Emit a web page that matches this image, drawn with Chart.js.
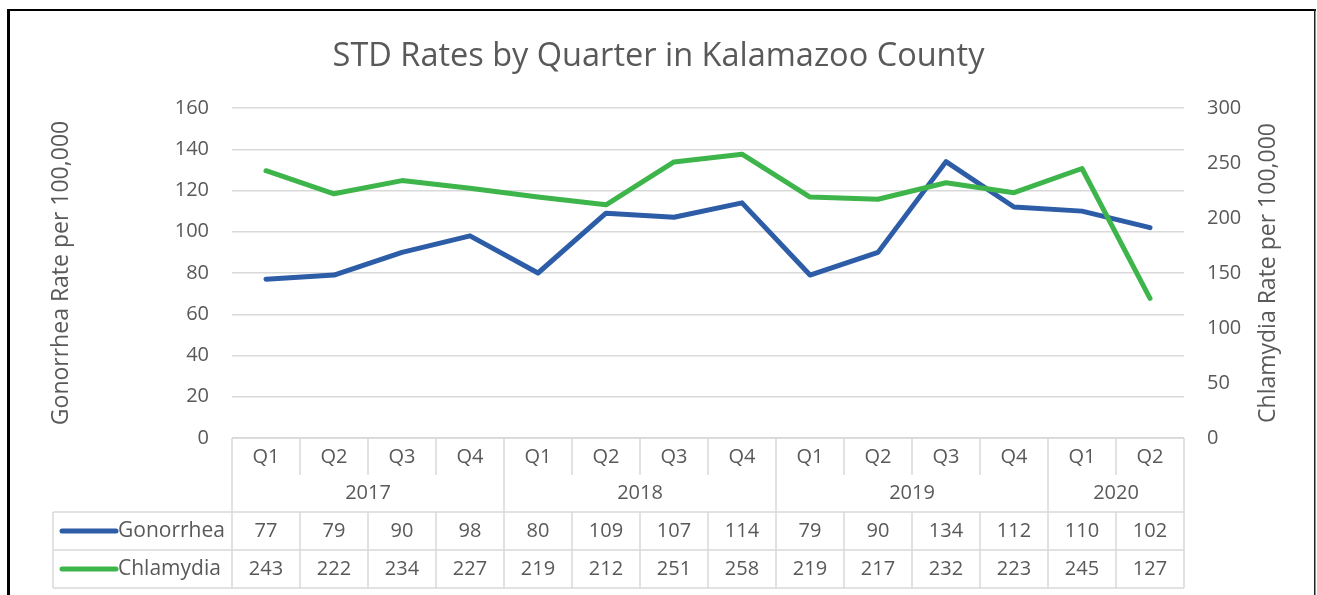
<!DOCTYPE html>
<html>
<head>
<meta charset="utf-8">
<title>STD Rates by Quarter in Kalamazoo County</title>
<script src="https://cdn.jsdelivr.net/npm/chart.js@4.4.1/dist/chart.umd.min.js"></script>
<style>
  body { margin: 0; background: #fff; }
  canvas { display: block; }
</style>
</head>
<body>
<canvas id="myChart" width="1317" height="595"></canvas>
<script>
// data
const quarters = ['Q1', 'Q2', 'Q3', 'Q4', 'Q1', 'Q2', 'Q3', 'Q4', 'Q1', 'Q2', 'Q3', 'Q4', 'Q1', 'Q2']
const years = ['2017', '2017', '2017', '2017', '2018', '2018', '2018', '2018', '2019', '2019', '2019', '2019', '2020', '2020']
const gonorrhea = [77, 79, 90, 98, 80, 109, 107, 114, 79, 90, 134, 112, 110, 102]
const chlamydia = [243, 222, 234, 227, 219, 212, 251, 258, 219, 217, 232, 223, 245, 127]

const BLUE = '#2E5DA8'
const GREEN = '#3DB54A'
const TEXT = '#595959'
const GRID = '#d9d9d9'
const FONT = '"Open Sans", sans-serif'

// draws the data table under the plot, the right axis title and the frame
const tablePlugin = {
  id: 'dataTable',
  afterDraw(chart) {
    const ctx = chart.ctx
    const x = chart.scales.x
    const area = chart.chartArea
    const step = x.getPixelForValue(1) - x.getPixelForValue(0)
    const top = area.bottom
    const qBottom = 475, yearBottom = 512, row1 = 550, row2 = 588
    const legendLeft = 53

    ctx.save()
    ctx.strokeStyle = GRID
    ctx.lineWidth = 1.5

    function line(x1, y1, x2, y2) {
      ctx.beginPath()
      ctx.moveTo(x1, y1)
      ctx.lineTo(x2, y2)
      ctx.stroke()
    }

    // horizontal lines
    line(area.left, top, area.right, top)
    line(legendLeft, yearBottom, area.right, yearBottom)
    line(legendLeft, row1, area.right, row1)
    line(legendLeft, row2, area.right, row2)
    line(legendLeft, yearBottom, legendLeft, row2)

    // vertical lines
    for (let i = 0; i <= quarters.length; i++) {
      const bx = x.getPixelForValue(i) - step / 2
      const yearEdge = i === 0 || i === quarters.length || years[i] !== years[i - 1]
      if (yearEdge) {
        line(bx, top, bx, row2)
      } else {
        line(bx, top, bx, qBottom)
        line(bx, yearBottom, bx, row2)
      }
    }

    ctx.fillStyle = TEXT
    ctx.font = '20px ' + FONT
    ctx.textAlign = 'center'
    ctx.textBaseline = 'middle'

    quarters.forEach(function(q, i) {
      const cx = x.getPixelForValue(i)
      ctx.fillText(q, cx, 457)
      ctx.fillText(String(gonorrhea[i]), cx, 531)
      ctx.fillText(String(chlamydia[i]), cx, 569)
    })

    // year groups
    let start = 0
    for (let i = 1; i <= years.length; i++) {
      if (i === years.length || years[i] !== years[start]) {
        const cx = (x.getPixelForValue(start) + x.getPixelForValue(i - 1)) / 2
        ctx.fillText(years[start], cx, 493)
        start = i
      }
    }

    // legend keys in the table
    ctx.font = '21px ' + FONT
    const rows = [['Gonorrhea', BLUE, 531], ['Chlamydia', GREEN, 569]]
    rows.forEach(function(r) {
      ctx.strokeStyle = r[1]
      ctx.lineWidth = 5
      ctx.lineCap = 'round'
      line(62, r[2], 116, r[2])
      ctx.textAlign = 'left'
      ctx.fillText(r[0], 118, r[2])
    })

    // right axis title, reads bottom to top like the left one
    ctx.save()
    ctx.font = '23px ' + FONT
    ctx.translate(1268, (area.top + area.bottom) / 2)
    ctx.rotate(-Math.PI / 2)
    ctx.textAlign = 'center'
    ctx.fillText('Chlamydia Rate per 100,000', 0, 0)
    ctx.restore()

    // frame
    ctx.fillStyle = '#000'
    ctx.fillRect(7, 9, 3, 586)
    ctx.fillRect(7, 9, 1309, 2)
    ctx.fillStyle = '#222'
    ctx.fillRect(1314, 9, 1.5, 586)
    ctx.restore()
  }
}

var ctx = document.getElementById('myChart').getContext('2d')
var chart = new Chart(ctx, {
  type: 'line',
  data: {
    labels: quarters,
    datasets: [{
      label: 'Gonorrhea',
      data: gonorrhea,
      yAxisID: 'y',
      borderColor: BLUE,
      backgroundColor: BLUE,
      borderWidth: 5,
      pointRadius: 0,
      borderCapStyle: 'round',
      borderJoinStyle: 'round',
      order: 1
    }, {
      label: 'Chlamydia',
      data: chlamydia,
      yAxisID: 'y1',
      borderColor: GREEN,
      backgroundColor: GREEN,
      borderWidth: 5,
      pointRadius: 0,
      borderCapStyle: 'round',
      borderJoinStyle: 'round',
      order: 0
    }]
  },
  options: {
    responsive: false,
    animation: false,
    layout: { padding: 0 },
    plugins: {
      legend: { display: false },
      tooltip: { enabled: false },
      title: {
        display: true,
        text: 'STD Rates by Quarter in Kalamazoo County',
        color: TEXT,
        font: { family: FONT, size: 32.5, weight: 'normal' },
        padding: { top: 37, bottom: 32 }
      }
    },
    scales: {
      x: {
        offset: true,
        ticks: { display: false },
        grid: { display: false },
        border: { display: false },
        afterFit: function(scale) { scale.height = 157 }
      },
      y: {
        position: 'left',
        min: 0,
        max: 160,
        ticks: { stepSize: 20, padding: 23, color: TEXT, font: { family: FONT, size: 20 } },
        grid: { color: GRID, lineWidth: 1.5, drawTicks: false },
        border: { display: false },
        title: {
          display: true,
          text: 'Gonorrhea Rate per 100,000',
          color: TEXT,
          font: { family: FONT, size: 23 },
          padding: { top: 48, bottom: 0 }
        },
        afterFit: function(scale) { scale.width = 232 }
      },
      y1: {
        position: 'right',
        min: 0,
        max: 300,
        ticks: { stepSize: 50, padding: 23, color: TEXT, font: { family: FONT, size: 20 } },
        grid: { display: false, drawTicks: false },
        border: { display: false },
        afterFit: function(scale) { scale.width = 133 }
      }
    }
  },
  plugins: [tablePlugin]
})
</script>
</body>
</html>
